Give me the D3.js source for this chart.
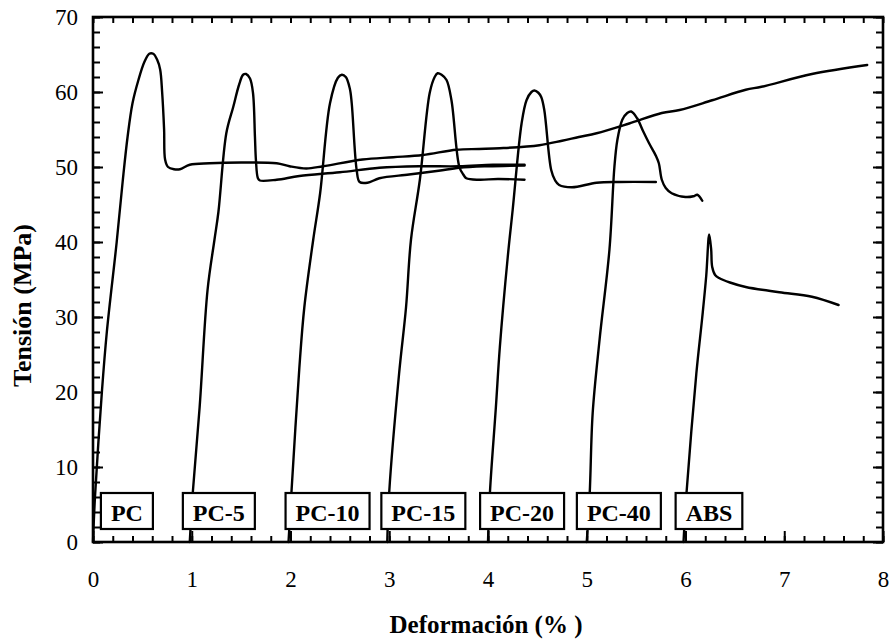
<!DOCTYPE html>
<html>
<head>
<meta charset="utf-8">
<script src="https://cdn.jsdelivr.net/npm/d3@7"></script>
<style>
  body { margin: 0; background: #fff; }
  text { font-family: "Liberation Serif", "Times New Roman", serif; fill: #000; }
  .line { fill: none; stroke: #000; stroke-width: 2.4; stroke-linejoin: round; stroke-linecap: round; }
  .tick line { stroke: #000; stroke-width: 2; }
</style>
</head>
<body>
<div id="chart"></div>
<script>
// strain (%) / stress (MPa) readings for each material
const pc = [[0,0],[0.02,6],[0.09,20],[0.14,28],[0.24,40],[0.30,48],[0.35,54],[0.40,58.5],[0.46,61.6],
  [0.52,64],[0.57,65.1],[0.61,65.1],[0.65,64.3],[0.68,63],[0.70,60],[0.72,55],[0.73,51],[0.76,50],
  [0.82,49.7],[0.88,49.7],[0.98,50.3],[1.18,50.5],[1.5,50.6],[1.86,50.5],[1.99,50.1],[2.16,49.8],
  [2.33,50.1],[2.73,51],[3.04,51.3],[3.34,51.6],[3.68,52.3],[3.91,52.4],[4.12,52.5],[4.52,52.9],
  [4.75,53.5],[4.92,54],[5.10,54.5],[5.43,55.8],[5.76,57.2],[5.94,57.6],[6.27,58.9],[6.61,60.3],
  [6.77,60.7],[7.28,62.4],[7.84,63.6]];
const pc5 = [[0.98,0],[1.01,6.5],[1.08,18],[1.16,33.6],[1.23,40.3],[1.27,44],[1.35,54.5],[1.42,58],
  [1.48,61],[1.52,62.3],[1.55,62.4],[1.59,61.8],[1.62,59.9],[1.64,54],[1.65,50.9],[1.67,48.5],
  [1.69,48.2],[1.86,48.3],[2.09,48.8],[2.5,49.3],[2.9,49.9],[3.3,50.1],[3.71,50.1],[4.05,50.3],[4.37,50.3]];
const pc10 = [[1.98,0],[2.01,6.7],[2.09,23.3],[2.14,31.3],[2.23,40.3],[2.30,46.5],[2.40,58.5],[2.48,61.9],
  [2.52,62.3],[2.56,62],[2.60,60.5],[2.62,58.5],[2.67,49.6],[2.70,48],[2.78,47.9],[2.9,48.5],[3.2,49],
  [3.5,49.5],[3.71,49.9],[4.0,50.1],[4.37,50.2]];
const pc15 = [[2.98,0],[3.0,6.7],[3.10,22.5],[3.17,31.3],[3.22,40.3],[3.31,48.3],[3.41,59.9],[3.46,62],
  [3.49,62.5],[3.53,62.3],[3.58,61.6],[3.63,58.9],[3.71,50],[3.75,49],[3.78,48.5],[3.91,48.3],[4.1,48.4],[4.37,48.3]];
const pc20 = [[4.0,0],[4.02,6.7],[4.08,18],[4.12,26],[4.2,38],[4.25,44.3],[4.34,55.8],[4.39,58.9],[4.44,60],
  [4.47,60.2],[4.51,59.9],[4.54,59.3],[4.57,57.6],[4.64,49.6],[4.68,48.2],[4.72,47.6],[4.85,47.3],
  [5.10,47.9],[5.33,48],[5.70,48]];
const pc40 = [[5.0,0],[5.03,6.5],[5.06,17.2],[5.13,27],[5.23,39],[5.28,50],[5.31,53.6],[5.36,56.3],
  [5.41,57.2],[5.45,57.4],[5.51,56.5],[5.57,54.8],[5.63,53.2],[5.70,51.5],[5.73,50.5],[5.76,48.3],
  [5.80,47.2],[5.86,46.5],[6.0,46],[6.08,46.1],[6.12,46.3],[6.17,45.5]];
const abs = [[5.98,0],[6.01,6.5],[6.11,22.5],[6.17,30],[6.21,35.5],[6.24,41],[6.26,39],[6.27,36.7],
  [6.30,35.6],[6.34,35.2],[6.45,34.6],[6.61,34],[6.95,33.3],[7.28,32.7],[7.55,31.6]];

const series = [pc, pc5, pc10, pc15, pc20, pc40, abs];
const labels = ['PC', 'PC-5', 'PC-10', 'PC-15', 'PC-20', 'PC-40', 'ABS'];
const labelStrain = [0.08, 0.91, 1.95, 2.92, 3.92, 4.90, 5.90]; // where each tag box starts
const xTicks = [0, 1, 2, 3, 4, 5, 6, 7, 8];
const yTicks = [0, 10, 20, 30, 40, 50, 60, 70];

const margin = { top: 17, right: 6, bottom: 99, left: 93 }
    , width = 889 - margin.left - margin.right
    , height = 641 - margin.top - margin.bottom;

const xScale = d3.scaleLinear().domain([0, 8]).range([0, width]);
const yScale = d3.scaleLinear().domain([0, 70]).range([height, 0]);

const line = d3.line()
    .x(d => xScale(d[0]))
    .y(d => yScale(d[1]))
    .curve(d3.curveCatmullRom.alpha(0.5));

const svg = d3.select('#chart').append('svg')
    .attr('width', 889)
    .attr('height', 641)
    .append('g')
    .attr('transform', 'translate(' + margin.left + ',' + margin.top + ')');

// minor ticks, all pointing into the plot
const xMinor = d3.range(0, 8.001, 0.2);
const yMinor = d3.range(0, 70.001, 2);
svg.append('g').attr('transform', 'translate(0,' + height + ')')
    .call(d3.axisBottom(xScale).tickValues(xMinor).tickSize(-6).tickFormat(''));
svg.append('g')
    .call(d3.axisTop(xScale).tickValues(xMinor).tickSize(-6).tickFormat(''));
svg.append('g')
    .call(d3.axisLeft(yScale).tickValues(yMinor).tickSize(-7).tickFormat(''));
svg.append('g').attr('transform', 'translate(' + width + ',0)')
    .call(d3.axisRight(yScale).tickValues(yMinor).tickSize(-7).tickFormat(''));

// major ticks with labels
svg.append('g').attr('class', 'x axis').attr('transform', 'translate(0,' + height + ')')
    .call(d3.axisBottom(xScale).tickValues(xTicks).tickSize(-11).tickPadding(29).tickFormat(d3.format('d')));
svg.append('g').attr('class', 'y axis')
    .call(d3.axisLeft(yScale).tickValues(yTicks).tickSize(-10).tickPadding(15).tickFormat(d3.format('d')));
svg.append('g').attr('transform', 'translate(' + width + ',0)')
    .call(d3.axisRight(yScale).tickValues(yTicks).tickSize(-10).tickFormat(''));

svg.selectAll('.domain').remove();
svg.selectAll('.axis text').style('font-size', '23px').style('font-family', '"Liberation Serif", serif');

// curves
svg.append('g').selectAll('path')
    .data(series)
    .enter().append('path')
    .attr('class', 'line')
    .attr('d', line);

// tag boxes at the foot of each curve
const tags = svg.append('g').selectAll('g')
    .data(labels)
    .enter().append('g')
    .attr('transform', (d, i) => 'translate(' + xScale(labelStrain[i]) + ',' + (height - 49) + ')');

tags.append('text')
    .attr('x', 10)
    .attr('y', 28)
    .style('font-size', '24px')
    .style('font-weight', 'bold')
    .text(d => d);

tags.insert('rect', 'text')
    .attr('width', function () { return this.parentNode.querySelector('text').getComputedTextLength() + 20; })
    .attr('height', 36)
    .attr('fill', '#fff')
    .attr('stroke', '#000')
    .attr('stroke-width', 2.2);

// plot frame
svg.append('rect')
    .attr('width', width)
    .attr('height', height)
    .attr('fill', 'none')
    .attr('stroke', '#000')
    .attr('stroke-width', 2.6);

// axis titles
svg.append('text')
    .attr('x', width / 2 - 2)
    .attr('y', height + 91)
    .attr('text-anchor', 'middle')
    .style('font-size', '25px')
    .style('font-weight', 'bold')
    .text('Deformación (% )');

svg.append('text')
    .attr('transform', 'translate(' + (-62) + ',' + (height / 2 + 26) + ') rotate(-90)')
    .attr('text-anchor', 'middle')
    .style('font-size', '26px')
    .style('font-weight', 'bold')
    .text('Tensión (MPa)');
</script>
</body>
</html>
